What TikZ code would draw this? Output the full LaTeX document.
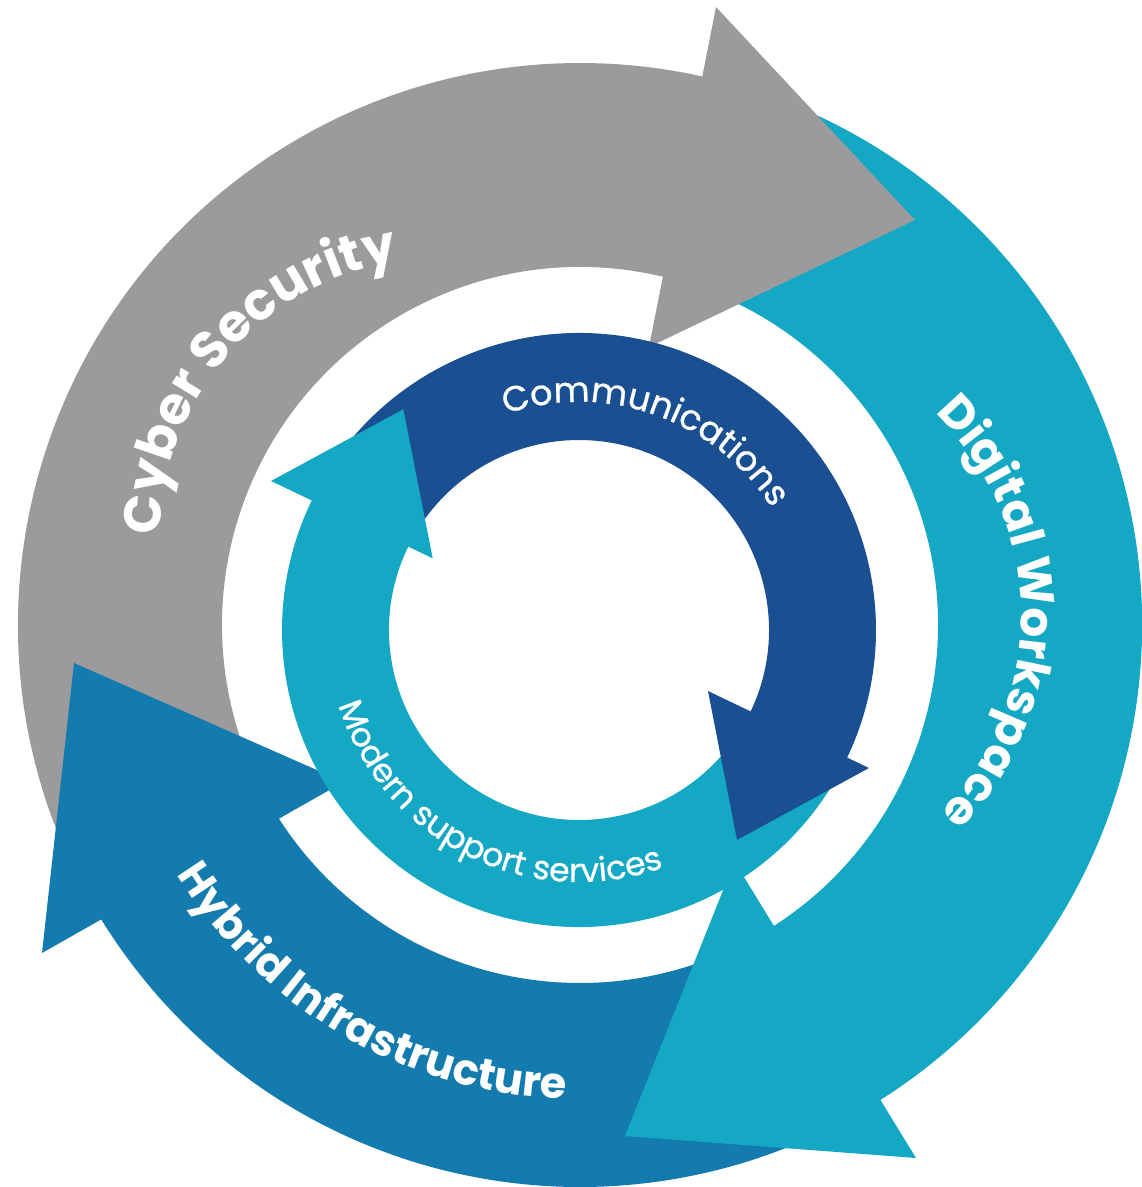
\documentclass[tikz,border=0pt]{standalone}
\usepackage{fontspec}
\setmainfont{Poppins}
\newfontfamily\midfont{Poppins}[FakeBold=0.8]
\usetikzlibrary{decorations.text}
\definecolor{cgray}{HTML}{9B9B9D}
\definecolor{cteal}{HTML}{15A8C5}
\definecolor{cblue}{HTML}{147BAF}
\definecolor{cnavy}{HTML}{1A5092}
\begin{document}
\begin{tikzpicture}[x=1pt,y=1pt,
  lbl/.style={decorate, decoration={text along path, text align=center, text color=white}},
  ]
\useasboundingbox (0,0) rectangle (1142,-1187);
\coordinate (O) at (580,-625);
\coordinate (I) at (579,-630);
\coordinate (TC) at (440,-538);
\coordinate (TD) at (741.2,-615.5);
% outer bands
\begin{scope}[shift={(O)}]
  \fill[cgray] (213:562) arc[start angle=213,end angle=75,radius=562] -- (75:358) arc[start angle=75,end angle=213,radius=358] -- cycle;
  \fill[cteal] (76:562) arc[start angle=76,end angle=-59.5,radius=562] -- (-59.5:358) arc[start angle=-59.5,end angle=76,radius=358] -- cycle;
  \fill[cblue] (-58:562) arc[start angle=-58,end angle=-149.5,radius=562] -- (-149.5:358) arc[start angle=-149.5,end angle=-58,radius=358] -- cycle;
\end{scope}
% outer heads
\fill[cgray] (716,-7) -- (915,-220) -- (649,-347) -- cycle;
\fill[cteal] (734.5,-861.5) -- (625,-1136) -- (916,-1158) -- cycle;
\fill[cblue] (343.8,-781.9) -- (74,-663) -- (42,-953) -- cycle;
% inner bands
\begin{scope}[shift={(I)}]
  \fill[cnavy] (153:297) arc[start angle=153,end angle=-27.4,radius=297] -- (-27.4:190) arc[start angle=-27.4,end angle=153,radius=190] -- cycle;
  \fill[cteal] (-26.5:297) arc[start angle=-26.5,end angle=-208,radius=297] -- (-208:190) arc[start angle=-208,end angle=-26.5,radius=190] -- cycle;
\end{scope}
% inner heads
\fill[cnavy] (708,-691) -- (869,-768) -- (737,-840) -- cycle;
\fill[cteal] (403.3,-409.3) -- (271,-481) -- (432.7,-558.3) -- cycle;
% labels
\begin{scope}[shift={(TC)}]
  \path[lbl, decoration={text={|\bfseries\fontsize{52}{52}\selectfont|Cyber Security}}] (192:280) arc[start angle=192,end angle=86,radius=280];
\end{scope}
\begin{scope}[shift={(TD)}]
  \path[lbl, decoration={text={|\bfseries\fontsize{47}{47}\selectfont|Digital Workspace}}] (56.2:280) arc[start angle=56.2,end angle=-54.6,radius=280];
\end{scope}
\begin{scope}[shift={(O)}]
  \path[lbl, decoration={text={|\bfseries\fontsize{43}{43}\selectfont|Hybrid Infrastructure}}] (180:474) arc[start angle=180,end angle=300,radius=474];
\end{scope}
\begin{scope}[shift={(I)}]
  \path[lbl, decoration={text={|\midfont\fontsize{35}{35}\selectfont|Communications}}] (160.5:228) arc[start angle=160.5,end angle=-19.5,radius=228];
  \path[lbl, decoration={text={|\midfont\fontsize{33}{33}\selectfont|Modern support services}}] (153.5:252) arc[start angle=153.5,end angle=333.5,radius=252];
\end{scope}
\end{tikzpicture}
\end{document}
